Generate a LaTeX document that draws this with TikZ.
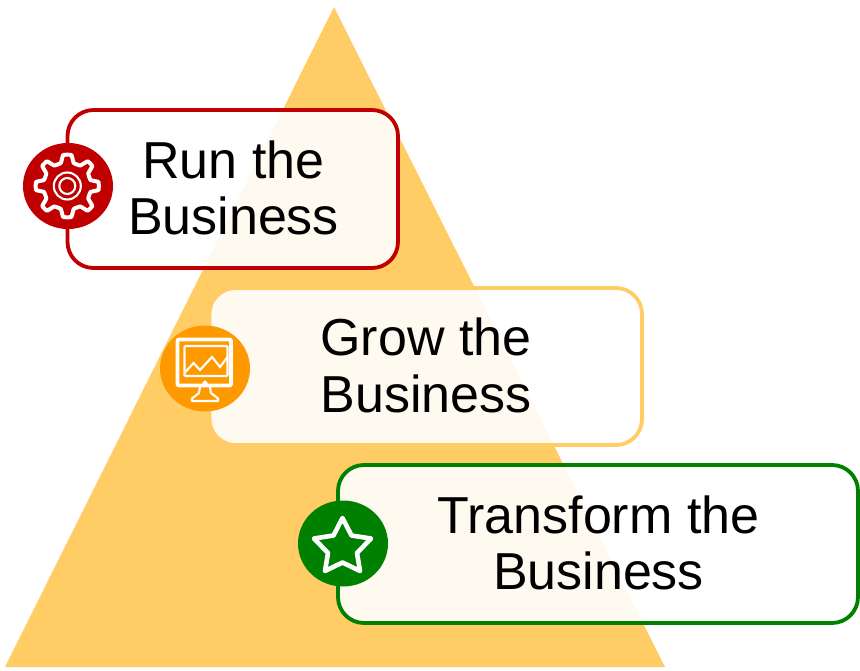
\documentclass[tikz,border=0pt]{standalone}
\usepackage{fontspec}
\setmainfont{Liberation Sans}
\definecolor{tri}{HTML}{FFCC66}
\definecolor{redc}{HTML}{C00000}
\definecolor{orangec}{HTML}{FF9900}
\definecolor{greenc}{HTML}{008000}
\tikzset{
  card/.style={rounded corners=26pt,line width=3.8pt,fill=white,fill opacity=0.9},
  lbl/.style={font=\fontsize{52}{56.5}\selectfont,align=center,text=black,inner sep=0pt},
  badge/.style={ellipse,minimum width=90pt,minimum height=86pt,inner sep=0pt},
  icon/.style={draw=white,line width=3.6pt,line join=round,line cap=round},
  thin icon/.style={draw=white,line width=2.1pt}
}
\usetikzlibrary{shapes.geometric}
\begin{document}
\begin{tikzpicture}[x=1pt,y=-1pt]
\useasboundingbox (0,0) rectangle (860,671);
\fill[white] (0,0) rectangle (860,671);
\fill[tri] (334,7) -- (665,667) -- (5,667) -- cycle;
\draw[card,draw=redc] (67.5,110) rectangle (398,268);
\draw[card,draw=tri] (209.5,288) rectangle (642,445);
\draw[card,draw=greenc] (338,465) rectangle (858,623);
\node[lbl] (run) at (233.5,188) {Run the\\Business};
\node[lbl] (grow) at (426,365.5) {Grow the\\Business};
\node[lbl] (transform) at (598.5,543) {Transform the\\Business};
% gear
\node[badge,fill=redc] (gear) at (68,186) {};
\draw[icon,line width=4pt] plot[smooth cycle,tension=0.18] coordinates {
 (63.2,155) (71.4,155) (73.7,163) (80.3,165.5) (87.6,161.3) (92.3,166) (88.3,173.4) (90.5,180)
 (98.5,182) (98.5,190) (90.5,192) (88.3,198.6) (92.3,206) (87.6,210.7) (80.3,206.5) (73.7,209)
 (71.4,217) (63.2,217) (60.8,209) (54.2,206.5) (47,210.7) (42.3,206) (46.3,198.6) (44,192)
 (36,190) (36,182) (44,180) (46.3,173.4) (42.3,166) (47,161.3) (54.2,165.5) (60.8,163)};
\draw[thin icon] (67.3,186) circle (13.5);
\draw[thin icon] (67.3,186) circle (8);
% monitor
\node[badge,fill=orangec] (monitor) at (205,368.5) {};
\draw[icon,rounded corners=1pt] (177.5,339.5) rectangle (231,385.5);
\draw[thin icon,rounded corners=1pt] (184.5,346) rectangle (227.5,376);
\draw[thin icon] (184.5,373) -- (193.5,363) -- (200,370) -- (212,357) -- (220,367) -- (227.5,357);
\draw[thin icon] (205,383) circle (1.3);
\draw[thin icon,line join=round] (200,387) -- (199,393) -- (192,398.5) -- (192,401) -- (218,401) -- (218,398.5) -- (211,393) -- (210,387);
% star
\node[badge,fill=greenc] (star) at (343,543.5) {};
\draw[icon,line width=4.6pt] (342.5,518) -- (351.5,535.5) -- (371,538.5) -- (357,553) -- (360,571) -- (342.5,562.5) -- (325,571) -- (328,553) -- (314,538.5) -- (333.5,535.5) -- cycle;
\end{tikzpicture}
\end{document}
